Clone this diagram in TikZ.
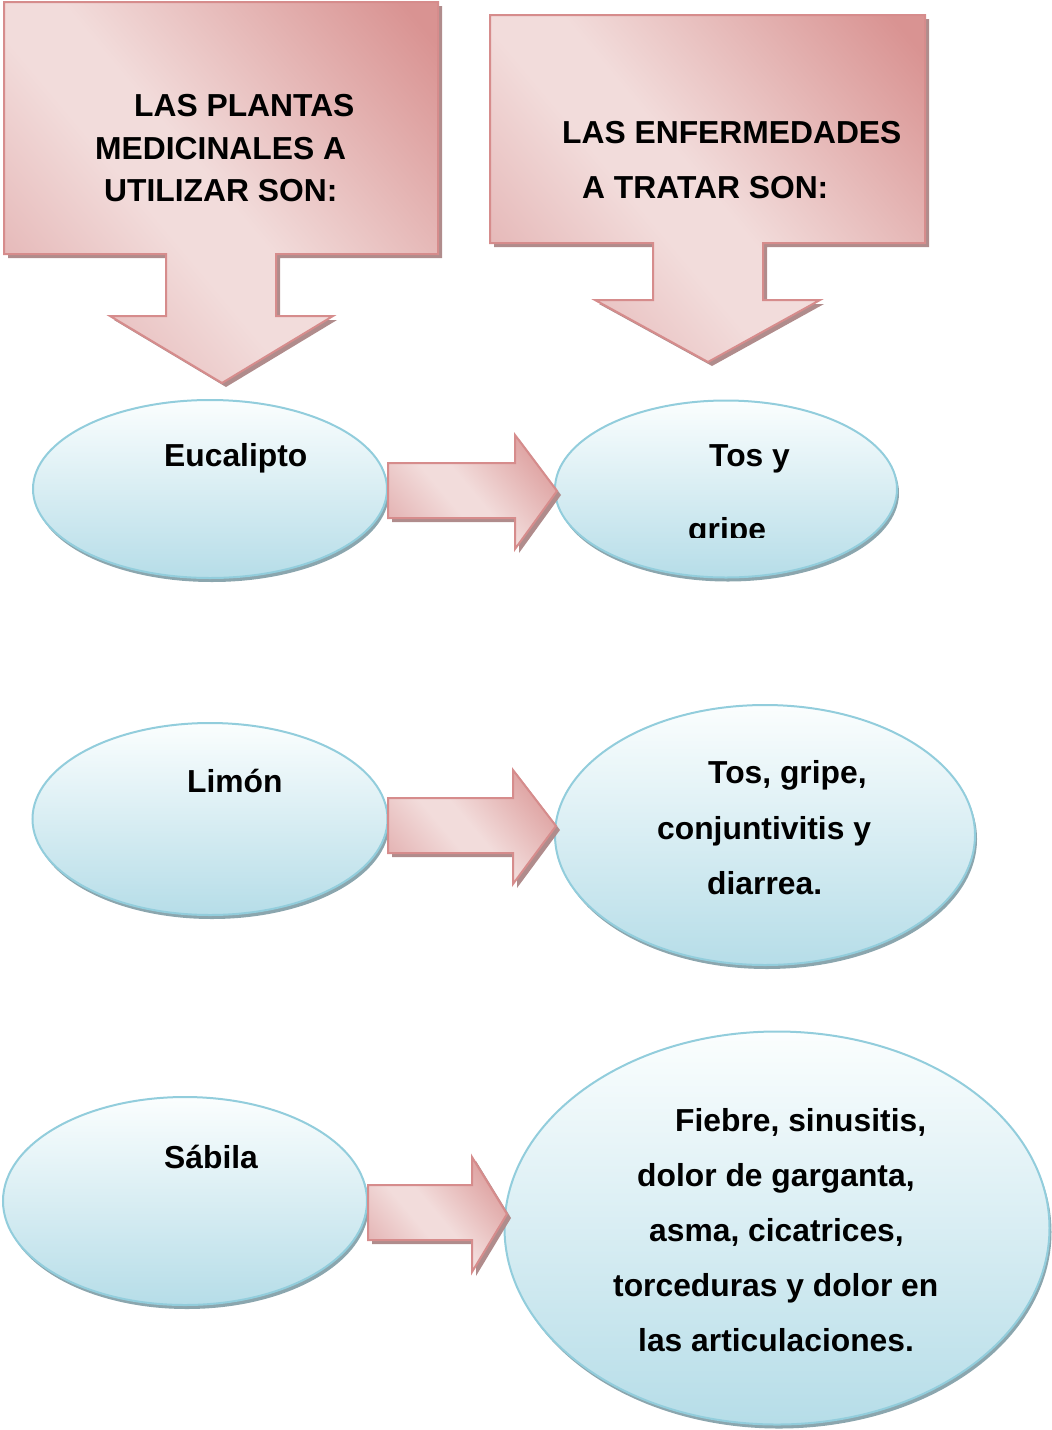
\documentclass[tikz,border=0pt]{standalone}
\usepackage{fontspec}
\setmainfont{Liberation Sans}
\usetikzlibrary{shapes.geometric,shadows}
\definecolor{pinkD}{RGB}{217,147,146}
\definecolor{pinkL}{RGB}{242,220,219}
\definecolor{pinkM}{RGB}{228,180,180}
\definecolor{pinkB}{RGB}{214,140,140}
\definecolor{pinkS}{RGB}{176,140,140}
\definecolor{blueT}{RGB}{251,254,254}
\definecolor{blueB}{RGB}{182,221,232}
\definecolor{blueE}{RGB}{146,205,220}
\definecolor{blueS}{RGB}{139,166,174}
\pgfdeclarehorizontalshading{pinkdiag}{100bp}{color(0bp)=(pinkM); color(22bp)=(pinkM); color(42bp)=(pinkL); color(50bp)=(pinkL); color(82bp)=(pinkD); color(100bp)=(pinkD)}
\tikzset{
  pinkshape/.style={draw=pinkB, line width=2pt, line join=miter,
    shading=pinkdiag, shading angle=40,
    drop shadow={shadow xshift=4pt, shadow yshift=-4pt, opacity=1, fill=pinkS}},
  ell/.style={ellipse, draw=blueE, line width=2pt, inner sep=0pt,
    top color=blueT, bottom color=blueB,
    drop shadow={shadow xshift=2pt, shadow yshift=-4pt, opacity=1, fill=blueS}},
  txt/.style={anchor=base west, inner sep=0pt, font=\bfseries\fontsize{31.8pt}{38pt}\selectfont}
}
\begin{document}
\begin{tikzpicture}[x=1pt,y=-1pt]
\useasboundingbox (0,0) rectangle (1052,1430);
% callouts
\path[pinkshape] (4,2) -- (438,2) -- (438,254) -- (276,254) -- (276,316) -- (333,316)
  -- (222,383) -- (110,316) -- (166,316) -- (166,254) -- (4,254) -- cycle;
\path[pinkshape] (490,15) -- (925,15) -- (925,243) -- (763,243) -- (763,300) -- (820,300)
  -- (708,362) -- (595,300) -- (653,300) -- (653,243) -- (490,243) -- cycle;
\node[txt] (c1a) at (134,116) {LAS PLANTAS};
\node[txt] (c1b) at (95,159) {MEDICINALES A};
\node[txt] (c1c) at (104,201) {UTILIZAR SON:};
\node[txt] (c2a) at (562,143) {LAS ENFERMEDADES};
\node[txt] (c2b) at (582,198) {A TRATAR SON:};
% ellipses
\node[ell, minimum width=354pt, minimum height=178pt] (e1) at (210,489) {};
\node[ell, minimum width=342pt, minimum height=177pt] (e2) at (726,489) {};
\node[ell, minimum width=355pt, minimum height=192pt] (e3) at (210,819) {};
\node[ell, minimum width=420pt, minimum height=260pt] (e4) at (765,835) {};
\node[ell, minimum width=364pt, minimum height=208pt] (e5) at (185,1201) {};
\node[ell, minimum width=545pt, minimum height=393pt] (e6) at (777,1228) {};
% block arrows
\path[pinkshape] (388,463) -- (515,463) -- (515,435) -- (557,491) -- (515,549) -- (515,518) -- (388,518) -- cycle;
\path[pinkshape] (388,798) -- (513,798) -- (513,770) -- (556,826) -- (513,884) -- (513,853) -- (388,853) -- cycle;
\path[pinkshape] (368,1185) -- (472,1185) -- (472,1157) -- (507,1214) -- (472,1272) -- (472,1240) -- (368,1240) -- cycle;
% texts
\node[txt] (t1) at (164,466) {Eucalipto};
\node[txt] (t2a) at (709,466) {Tos y};
\begin{scope}
\clip (640,500) rectangle (820,537);
\node[txt] (t2b) at (688,540) {gripe};
\end{scope}
\node[txt] (t3) at (187,792) {Limón};
\node[txt] (t4a) at (708,783) {Tos, gripe,};
\node[txt] (t4b) at (657,839) {conjuntivitis y};
\node[txt] (t4c) at (707,894) {diarrea.};
\node[txt] (t5) at (164,1168) {Sábila};
\node[txt] (t6a) at (675,1131) {Fiebre, sinusitis,};
\node[txt] (t6b) at (637,1186) {dolor de garganta,};
\node[txt] (t6c) at (649,1241) {asma, cicatrices,};
\node[txt] (t6d) at (613,1296) {torceduras y dolor en};
\node[txt] (t6e) at (638,1351) {las articulaciones.};
\end{tikzpicture}
\end{document}
